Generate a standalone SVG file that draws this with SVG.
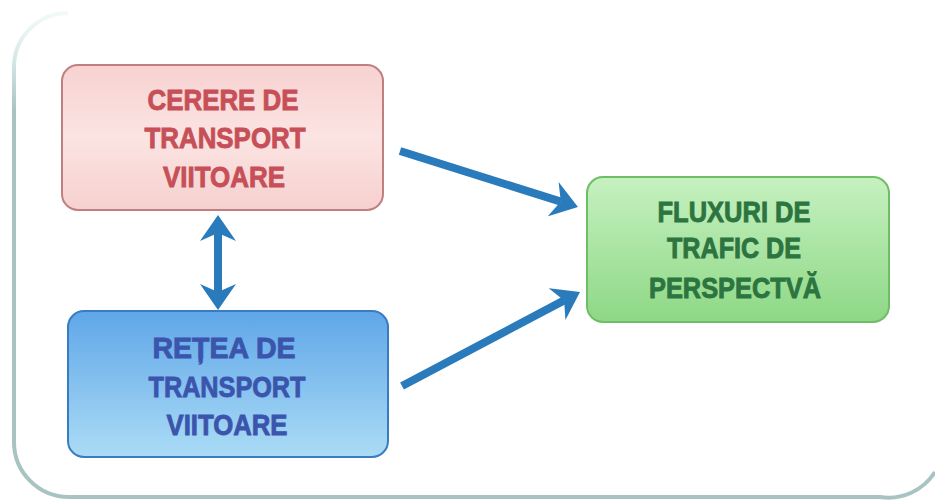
<svg xmlns="http://www.w3.org/2000/svg" width="935" height="502" viewBox="0 0 935 502">
  <style>
    .lbl { font-family: "Liberation Sans", Arial, sans-serif; font-weight: bold; font-size: 30px; text-anchor: middle; stroke-width: 0.9; }
    .red { fill: #c64f58; stroke: #c64f58; }
    .blue { fill: #3b55ad; stroke: #3b55ad; }
    .green { fill: #2c7440; stroke: #2c7440; }
    .conn { stroke: #2a7bbb; stroke-width: 8; fill: none; marker-end: url(#head); }
  </style>
  <defs>
    <linearGradient id="gRed" x1="0" y1="0" x2="0" y2="1">
      <stop offset="0" stop-color="#f7d2d1"/>
      <stop offset="0.5" stop-color="#fbe4e2"/>
      <stop offset="1" stop-color="#f6d0cf"/>
    </linearGradient>
    <linearGradient id="gBlue" x1="0" y1="0" x2="0" y2="1">
      <stop offset="0" stop-color="#5fa6e8"/>
      <stop offset="1" stop-color="#abdcf6"/>
    </linearGradient>
    <linearGradient id="gGreen" x1="0" y1="0" x2="0" y2="1">
      <stop offset="0" stop-color="#c6f1c0"/>
      <stop offset="1" stop-color="#8ed886"/>
    </linearGradient>
    <linearGradient id="gFrame" gradientUnits="userSpaceOnUse" x1="0" y1="10" x2="0" y2="110">
      <stop offset="0" stop-color="#c9e6e4" stop-opacity="0.2"/>
      <stop offset="1" stop-color="#a9c3c3"/>
    </linearGradient>
    <marker id="head" viewBox="0 0 13 18" markerWidth="3.25" markerHeight="4.5" refX="4" refY="9" orient="auto-start-reverse">
      <path d="M0,0 L13,9 L0,18 L4,9 z" fill="#2a7bbb"/>
    </marker>
  </defs>
  <rect width="935" height="502" fill="#ffffff"/>
  <g id="frame">
    <path d="M68,13 A54,54 0 0 0 14,67 L14,442 A55,55 0 0 0 69,497 L880,497 A55,55 0 0 0 935,472" fill="none" stroke="url(#gFrame)" stroke-width="4"/>
  </g>
  <g id="connectors">
    <path class="conn" d="M218,233 L218,292" marker-start="url(#head)"/>
    <path class="conn" d="M400,151 L560.8,201.6"/>
    <path class="conn" d="M402,386 L564.1,300.4"/>
  </g>
  <g id="cerere">
    <rect x="62" y="65" width="321" height="145" rx="16" fill="url(#gRed)" stroke="#c07f80" stroke-width="2"/>
    <text class="lbl red" x="223" y="110" textLength="151" lengthAdjust="spacingAndGlyphs">CERERE DE</text>
    <text class="lbl red" x="225" y="148" textLength="161" lengthAdjust="spacingAndGlyphs">TRANSPORT</text>
    <text class="lbl red" x="224" y="187" textLength="122" lengthAdjust="spacingAndGlyphs">VIITOARE</text>
  </g>
  <g id="retea">
    <rect x="68" y="311" width="320" height="146" rx="16" fill="url(#gBlue)" stroke="#3a7cc0" stroke-width="2"/>
    <text class="lbl blue" x="224" y="358" textLength="143" lengthAdjust="spacingAndGlyphs">REȚEA DE</text>
    <text class="lbl blue" x="227" y="397" textLength="157" lengthAdjust="spacingAndGlyphs">TRANSPORT</text>
    <text class="lbl blue" x="227" y="435" textLength="121" lengthAdjust="spacingAndGlyphs">VIITOARE</text>
  </g>
  <g id="fluxuri">
    <rect x="587" y="177" width="302" height="145" rx="16" fill="url(#gGreen)" stroke="#6fbd66" stroke-width="2"/>
    <text class="lbl green" x="734" y="222" textLength="153" lengthAdjust="spacingAndGlyphs">FLUXURI DE</text>
    <text class="lbl green" x="734" y="258" textLength="134" lengthAdjust="spacingAndGlyphs">TRAFIC DE</text>
    <text class="lbl green" x="735" y="298" textLength="172" lengthAdjust="spacingAndGlyphs">PERSPECTVĂ</text>
  </g>
</svg>
